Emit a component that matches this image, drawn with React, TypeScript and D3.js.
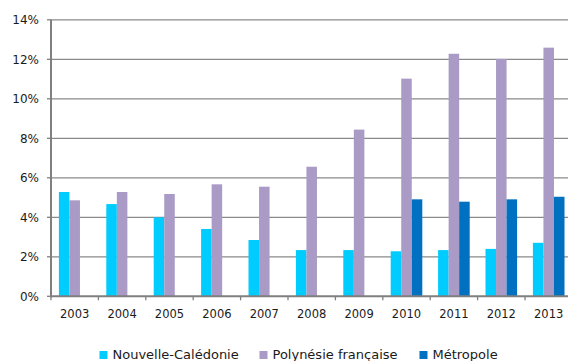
import React from "react";
import * as d3 from "d3";

const years = ["2003", "2004", "2005", "2006", "2007", "2008", "2009", "2010", "2011", "2012", "2013"];
const seriesNames = ["Nouvelle-Calédonie", "Polynésie française", "Métropole"];
const nouvelleCaledonie = [5.28, 4.67, 4.0, 3.41, 2.85, 2.34, 2.34, 2.28, 2.34, 2.4, 2.71];
const polynesie = [4.86, 5.28, 5.18, 5.67, 5.55, 6.56, 8.44, 11.02, 12.28, 12.02, 12.59];
const metropole = [null, null, null, null, null, null, null, 4.91, 4.79, 4.91, 5.04];
const seriesColors = ["#00CCFF", "#A99BC6", "#0070C0"];
const yTicks = [0, 2, 4, 6, 8, 10, 12, 14];

const W = 568;
const H = 361;
const left = 51;
const right = 572.4;
const top = 19.8;
const bottom = 296.3;
const font = "Tahoma, 'DejaVu Sans', sans-serif";

export default function App() {
  const x = d3.scaleBand<string>().domain(years).range([left, right]).paddingInner(0).paddingOuter(0);
  const inner = d3
    .scaleBand<string>()
    .domain(seriesNames)
    .range([0, x.bandwidth()])
    .paddingInner(0)
    .paddingOuter(0.75);
  const y = d3.scaleLinear().domain([0, 14]).range([bottom, top]);
  const data = [nouvelleCaledonie, polynesie, metropole];

  const legendItems = [
    { x: 99.5, label: seriesNames[0] },
    { x: 259.5, label: seriesNames[1] },
    { x: 419.5, label: seriesNames[2] },
  ];

  return (
    <svg
      width={W}
      height={H}
      style={{ position: "absolute", left: 0, top: 0, background: "#fff" }}
      fontFamily={font}
    >
      {/* horizontal gridlines */}
      {yTicks.slice(1).map((t) => (
        <line key={t} x1={left} x2={W} y1={y(t)} y2={y(t)} stroke="#8A8A8A" strokeWidth={1.3} />
      ))}
      {/* bars */}
      {data.map((vals, si) =>
        vals.map((v, i) =>
          v == null ? null : (
            <rect
              key={`${si}-${i}`}
              x={(x(years[i]) as number) + (inner(seriesNames[si]) as number)}
              y={y(v)}
              width={inner.bandwidth()}
              height={bottom - y(v)}
              fill={seriesColors[si]}
            />
          )
        )
      )}
      {/* y axis */}
      <line x1={left} x2={left} y1={top} y2={bottom + 1} stroke="#7F7F7F" strokeWidth={2} />
      {yTicks.map((t) => (
        <g key={t}>
          <line x1={left - 4} x2={left} y1={y(t)} y2={y(t)} stroke="#7F7F7F" strokeWidth={1.3} />
          <text x={39} y={y(t)} dy="0.36em" textAnchor="end" fontSize={12} fill="#1a1a1a">
            {t}%
          </text>
        </g>
      ))}
      {/* x axis */}
      <line x1={left} x2={W} y1={bottom} y2={bottom} stroke="#7F7F7F" strokeWidth={2} />
      {years.map((yr) => (
        <g key={yr}>
          <line
            x1={x(yr) as number}
            x2={x(yr) as number}
            y1={bottom}
            y2={bottom + 4}
            stroke="#7F7F7F"
            strokeWidth={1.3}
          />
          <text
            x={(x(yr) as number) + x.bandwidth() / 2}
            y={318}
            textAnchor="middle"
            fontSize={11.5}
            fill="#1a1a1a"
          >
            {yr}
          </text>
        </g>
      ))}
      {/* legend */}
      {legendItems.map((it, i) => (
        <g key={it.label}>
          <rect x={it.x} y={351} width={8} height={8} fill={seriesColors[i]} />
          <text x={it.x + 13} y={359} fontSize={13} fill="#1a1a1a">
            {it.label}
          </text>
        </g>
      ))}
    </svg>
  );
}
